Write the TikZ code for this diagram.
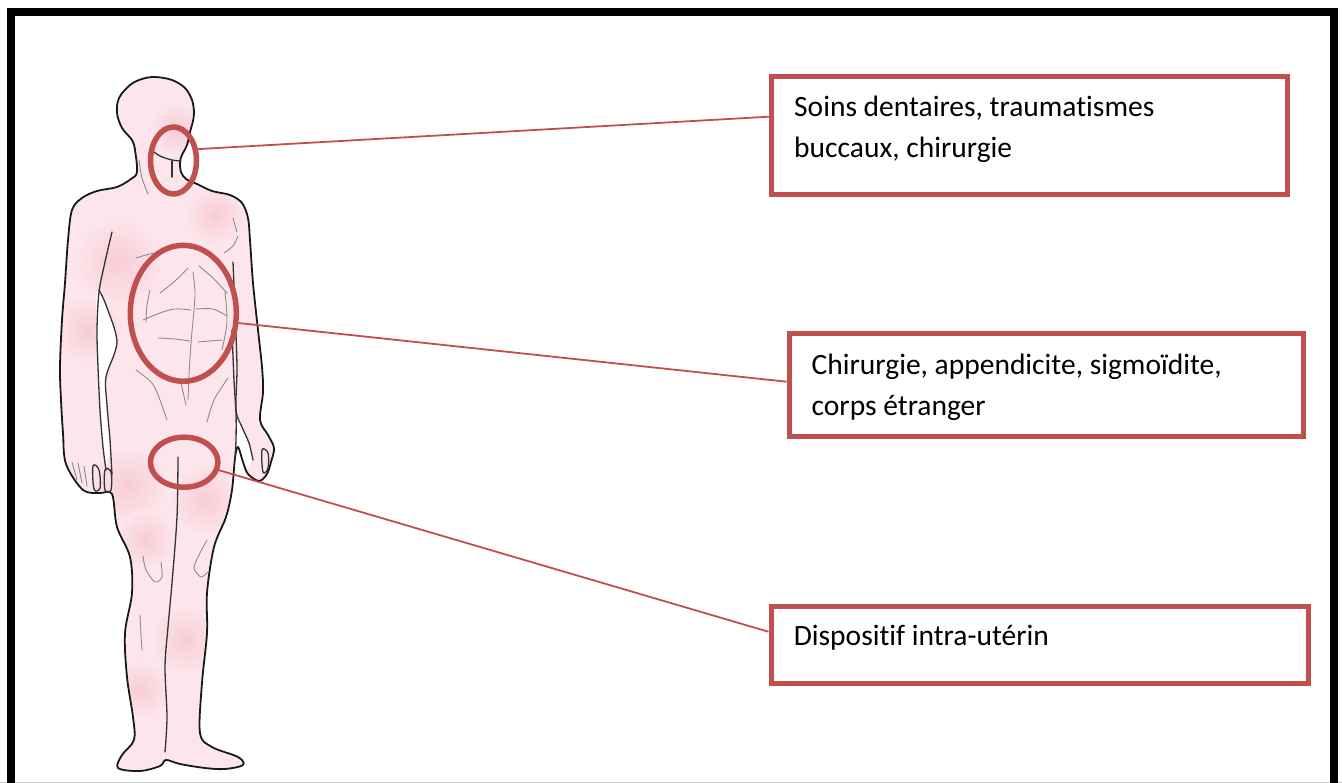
\documentclass[tikz,border=0pt]{standalone}
\usepackage{fontspec}
\setmainfont{Carlito}[Ligatures=NoCommon]
\usetikzlibrary{shapes.geometric,calc}
\definecolor{accred}{HTML}{C0504D}
\definecolor{skin}{HTML}{FCE6EB}
\definecolor{skindark}{HTML}{F8CCD7}
\begin{document}
\begin{tikzpicture}[x=1pt,y=-1pt,
  redbox/.style={draw=accred,line width=5pt,rectangle,inner sep=0pt,fill=none},
  ring/.style={draw=accred,line width=5.5pt,ellipse,inner sep=0pt},
  conn/.style={draw=accred,line width=1.8pt},
  outline/.style={draw=black!90,line width=1.8pt,line join=round},
  inline/.style={draw=black!80,line width=1.3pt,line cap=round},
  softline/.style={draw=black!45,line width=0.9pt,line cap=round},
  label/.style={anchor=base west,inner sep=0pt,font=\fontsize{29.5pt}{41pt}\selectfont}]
\useasboundingbox (0,0) rectangle (1342,783);
% frame
\draw[black!20,line width=0.8pt] (0,782.5) -- (1342,782.5);
\draw[black,line width=8pt] (11,800) -- (11,12) -- (1334,12) -- (1334,800);
% body
\def\bodysil{plot[smooth cycle,tension=0.55] coordinates {
(155,77) (172,80) (185,88) (192,100) (194,112) (193,121) (190,132) (187,145)
(182,155) (180,162) (181,172) (186,179) (197,184) (212,191) (230,195) (242,203)
(248,218) (250,240) (253,283) (258,330) (262,367) (263,392) (260,420)
(268,435) (274,448) (271,462) (267,474) (259,481) (248,474) (243,462) (238,447)
(235,458) (232,490) (226,517) (214,547) (207,593) (207,633) (202,683) (200,733)
(212,747) (238,757) (243,765) (225,769) (205,768) (180,764) (166,760) (160,766)
(140,771) (118,768) (122,755) (134,740) (133,717) (127,677) (125,633) (132,593)
(130,557) (117,527) (112,494) (100,493) (83,490) (66,464) (63,433) (61,400)
(60,367) (62,320) (65,283) (68,240) (72,210) (82,198) (97,191) (117,187)
(131,179) (137,172) (135,150) (132,140) (122,128) (117,113) (119,98) (130,85)
(142,79)}}
\fill[skin] \bodysil;
\begin{scope}
\clip \bodysil;
\shade[inner color=skindark,outer color=skin] (118,262) circle (45);
\shade[inner color=skindark,outer color=skin] (88,330) circle (35);
\shade[inner color=skindark,outer color=skin] (128,485) circle (40);
\shade[inner color=skindark,outer color=skin] (145,540) circle (30);
\shade[inner color=skindark,outer color=skin] (205,500) circle (35);
\shade[inner color=skindark,outer color=skin] (185,640) circle (35);
\shade[inner color=skindark,outer color=skin] (140,690) circle (30);
\shade[inner color=skindark,outer color=skin] (178,130) circle (28);
\shade[inner color=skindark,outer color=skin] (215,215) circle (30);
\end{scope}
% gaps between arms and body
\fill[white] plot[smooth cycle,tension=0.6] coordinates {(97,292) (97,330) (98,367) (100,410) (103,447) (106,468) (110,440) (107,405) (106,377) (117,342) (106,305)};
\fill[white] plot[smooth cycle,tension=0.6] coordinates {(236,414) (242,428) (249,443) (252,458) (246,468) (239,458) (236,438)};
\draw[outline] \bodysil;
% interior lines
\draw[inline] plot[smooth] coordinates {(150,149) (160,156) (172,160) (181,161)};
\draw[inline] (172,161) -- (172,177);
\draw[softline] plot[smooth] coordinates {(139,160) (142,178) (148,194)};
\draw[softline] plot[smooth] coordinates {(136,258) (150,254) (166,251)};
\draw[softline] plot[smooth] coordinates {(224,253) (233,246) (238,236)};
\draw[softline] plot[smooth] coordinates {(233,218) (237,232)};
\draw[softline] plot[smooth] coordinates {(193,272) (195,292) (194,310) (191,343) (189,375) (188,400)};
\draw[softline] plot[smooth] coordinates {(160,293) (175,281) (188,268)};
\draw[softline] plot[smooth] coordinates {(199,266) (213,278) (227,293)};
\draw[softline] plot[smooth] coordinates {(143,320) (160,313) (175,309) (191,310)};
\draw[softline] plot[smooth] coordinates {(196,309) (213,309) (227,316)};
\draw[softline] plot[smooth] coordinates {(158,338) (175,339) (190,341)};
\draw[softline] plot[smooth] coordinates {(198,342) (210,341) (222,340)};
\draw[softline] plot[smooth] coordinates {(150,290) (147,305) (146,322)};
\draw[softline] plot[smooth] coordinates {(225,292) (227,322) (222,350)};
\draw[softline] plot[smooth] coordinates {(136,370) (152,383) (160,400) (167,420)};
\draw[softline] plot[smooth] coordinates {(228,378) (214,400) (207,422)};
\draw[softline] plot[smooth] coordinates {(181,383) (186,405)};
\draw[inline] plot[smooth] coordinates {(112,232) (105,262) (99,292) (97,330) (98,367) (100,410) (103,447) (106,470)};
\draw[inline] plot[smooth] coordinates {(99,290) (106,305) (117,342) (106,377) (107,405) (110,440) (112,475)};
\draw[inline] plot[smooth] coordinates {(233,262) (235,310) (237,367) (236,410) (242,427) (249,443) (253,460)};
\draw[inline] plot[smooth] coordinates {(232,330) (234,380) (236,414) (236,440) (235,458)};
\draw[inline] plot[smooth] coordinates {(178,457) (177,517) (172,583) (168,627) (165,667) (167,717) (165,752)};
\draw[softline] plot[smooth] coordinates {(143,556) (146,570) (155,582) (162,577) (161,562)};
\draw[softline] plot[smooth] coordinates {(207,540) (199,555) (194,568) (201,577) (208,572)};
\draw[softline] plot[smooth] coordinates {(140,615) (141,635) (142,650)};
\draw[softline] (72,462) -- (77,480);
\draw[softline] (78,463) -- (82,483);
\draw[softline] (84,466) -- (87,486);
\draw[inline] plot[smooth cycle,tension=0.6] coordinates {(93,466) (99,470) (100,488) (94,489)};
\draw[inline] plot[smooth cycle,tension=0.6] coordinates {(105,470) (111,472) (111,490) (105,490)};
\draw[inline] plot[smooth cycle,tension=0.6] coordinates {(262,450) (268,453) (268,468) (263,472)};
% rings
\node[ring,minimum width=46pt,minimum height=67pt] (e1) at (173.5,160.5) {};
\node[ring,minimum width=106pt,minimum height=136pt] (e2) at (183.3,313.3) {};
\node[ring,minimum width=67.5pt,minimum height=50pt] (e3) at (184.2,462.2) {};
% boxes
\node[redbox,minimum width=515.5pt,minimum height=118.3pt] (b1) at (1029.25,135.85) {};
\node[redbox,minimum width=514.5pt,minimum height=103pt] (b2) at (1046.25,385.5) {};
\node[redbox,minimum width=537.5pt,minimum height=77.5pt] (b3) at (1039.75,644.75) {};
% texts
\node[label] (t1) at (794,116.7) {\parbox[t]{470pt}{\raggedright Soins dentaires, traumatismes\\buccaux, chirurgie}};
\node[label] (t2) at (811.5,375) {\parbox[t]{480pt}{\raggedright Chirurgie, appendicite, sigmoïdite,\\corps étranger}};
\node[label] (t3) at (793.6,645.7) {Dispositif intra-utérin};
% connectors
\draw[conn] (e1.25) -- ([yshift=19.15pt]b1.west);
\draw[conn] (e2.-10) -- ([yshift=3.8pt]b2.west);
\draw[conn] (e3.-13) -- ([yshift=13pt]b3.west);
\end{tikzpicture}
\end{document}
